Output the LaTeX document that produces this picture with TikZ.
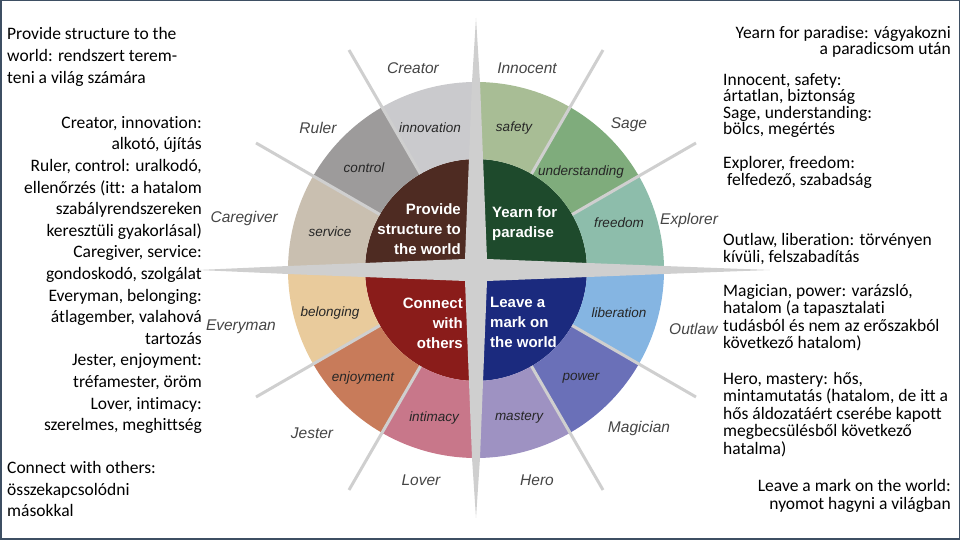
\documentclass[tikz,border=0pt]{standalone}
\usepackage{fontspec}
\setmainfont{Carlito}[Ligatures=NoCommon]
\newfontfamily\chartfont{Liberation Sans}
\usepackage{tikz}
\definecolor{coreprov}{HTML}{4E2B22}
\definecolor{coreyearn}{HTML}{1E4A2C}
\definecolor{coreconn}{HTML}{8A1C1A}
\definecolor{coreleave}{HTML}{1B2A7E}
\definecolor{ringinnov}{HTML}{CACACD}
\definecolor{ringcontrol}{HTML}{9D9B9B}
\definecolor{ringservice}{HTML}{C9BFB0}
\definecolor{ringsafety}{HTML}{A8BD95}
\definecolor{ringunder}{HTML}{7FAC7C}
\definecolor{ringfreedom}{HTML}{8DBDAB}
\definecolor{ringbelong}{HTML}{E9CB9C}
\definecolor{ringenjoy}{HTML}{C87B5A}
\definecolor{ringintim}{HTML}{C8778A}
\definecolor{ringliber}{HTML}{85B5E2}
\definecolor{ringpower}{HTML}{6A70B8}
\definecolor{ringmastery}{HTML}{9E92C2}
\definecolor{crossgray}{HTML}{CFCFCF}
\definecolor{labgray}{HTML}{454545}
\definecolor{framecol}{HTML}{3E4F63}

\begin{document}
\begin{tikzpicture}[x=1pt,y=1pt,inner sep=0pt]
                \tikzstyle{outer}=[font=\chartfont\itshape\fontsize{15.5}{18}\selectfont,text=labgray]
                \tikzstyle{inner}=[font=\chartfont\itshape\fontsize{13.5}{16}\selectfont,text=black!85]
                \tikzstyle{core}=[font=\chartfont\bfseries\fontsize{15}{20}\selectfont,text=white]
                \tikzstyle{divider}=[draw=crossgray,line width=3pt]
                \tikzstyle{side}=[font={\fontsize{17.5}{21.6}\selectfont\lineskiplimit=-30pt},text=black]
                \tikzstyle{rside}=[font={\fontsize{17.5}{16.4}\selectfont\lineskiplimit=-30pt},text=black]
                \tikzstyle{rsidewide}=[font={\fontsize{17.5}{17.4}\selectfont\lineskiplimit=-30pt},text=black]
                \useasboundingbox (0,0) rectangle (960,540);
                \coordinate (c) at (476,270);

                \begin{scope}[shift={(c)}]
                \foreach \a/\col in {0/coreyearn,90/coreprov,180/coreconn,270/coreleave}
                    \fill[\col] (0,0) -- (\a:111) arc[start angle=\a,delta angle=90,radius=111] -- cycle;
                \foreach \a/\b/\col in {60/90/ringsafety,30/60/ringunder,0/30/ringfreedom,
                    -30/0/ringliber,-60/-30/ringpower,-90/-60/ringmastery,
                    240/270/ringintim,210/240/ringenjoy,180/210/ringbelong,
                    150/180/ringservice,120/150/ringcontrol,90/120/ringinnov}
                    \fill[\col] (\a:111) arc[start angle=\a,end angle=\b,radius=111]
                        -- (\b:188) arc[start angle=\b,end angle=\a,radius=188] -- cycle;
                \foreach \a in {30,60,120,150,210,240,300,330}
                    \draw[divider] (\a:111) -- (\a:254);
                \fill[crossgray] (11,11) -- (4,188) -- (0,252) -- (-4,188) -- (-11,11)
                    -- (-188,4) -- (-278,0) -- (-188,-4) -- (-11,-11)
                    -- (-4,-188) -- (0,-248) -- (4,-188) -- (11,-11)
                    -- (188,-4) -- (294,0) -- (188,4) -- cycle;
                \end{scope}

                \node[outer]    (creator)   at (413,472)            {Creator};
                \node[outer]    (innocent)  at (527,472)            {Innocent};
                \node[outer]    (sage)      at (629,415)            {Sage};
                \node[outer]    (explorer)  [anchor=west] at (660,320)  {Explorer};
                \node[outer]    (outlaw)    [anchor=west] at (669,211)  {Outlaw};
                \node[outer]    (magician)  at (639,112)            {Magician};
                \node[outer]    (hero)      at (537,60)             {Hero};
                \node[outer]    (lover)     at (421,60)             {Lover};
                \node[outer]    (jester)    at (312,107)            {Jester};
                \node[outer]    (everyman)  [anchor=east] at (276,213)  {Everyman};
                \node[outer]    (caregiver) [anchor=east] at (278,322)  {Caregiver};
                \node[outer]    (ruler)     at (318,412)            {Ruler};

                \node[inner]    (innovation)    at (430,412)    {innovation};
                \node[inner]    (safety)        at (514,412)    {safety};
                \node[inner]    (understanding) at (581,368)    {understanding};
                \node[inner]    (freedom)       at (619,317)    {freedom};
                \node[inner]    (liberation)    at (619,227)    {liberation};
                \node[inner]    (power)         at (581,162)    {power};
                \node[inner]    (mastery)       at (519,122)    {mastery};
                \node[inner]    (intimacy)      at (434,122)    {intimacy};
                \node[inner]    (enjoyment)     at (363,162)    {enjoyment};
                \node[inner]    (belonging)     at (330,227)    {belonging};
                \node[inner]    (service)       at (330,308)    {service};
                \node[inner]    (control)       at (364,372)    {control};

                \node[core,anchor=east,align=right] (provide) at (461,311) {Provide\\structure to\\the world};
                \node[core,anchor=west,align=left]  (yearn)   at (492,316) {Yearn for\\paradise};
                \node[core,anchor=east,align=right] (connect) at (463,217) {Connect\\with\\others};
                \node[core,anchor=west,align=left]  (leave)   at (490,218) {Leave a\\mark on\\the world};

                \node[side,anchor=west,align=left]   (provtxt)  at (7,483)  {Provide structure to the\\world: rendszert terem-\\teni a világ számára};
                \node[side,anchor=east,align=right]  (lefttxt)  at (202,265) {Creator, innovation:\\alkotó, újítás\\Ruler, control: uralkodó,\\ellenőrzés (itt: a hatalom\\szabályrendszereken\\keresztüli gyakorlásal)\\Caregiver, service:\\gondoskodó, szolgálat\\Everyman, belonging:\\átlagember, valahová\\tartozás\\Jester, enjoyment:\\tréfamester, öröm\\Lover, intimacy:\\szerelmes, meghittség};
                \node[side,anchor=west,align=left]   (conntxt)  at (7,51)   {Connect with others:\\összekapcsolódni\\másokkal};

                \node[rside,anchor=east,align=right]    (yearntxt) at (951,498)   {Yearn for paradise: vágyakozni\\a paradicsom után};
                \node[rside,anchor=west,align=left]     (innotxt)  at (723,434.5) {Innocent, safety:\\ártatlan, biztonság\\Sage, understanding:\\bölcs, megértés};
                \node[rside,anchor=west,align=left]     (explotxt) at (723,367.5) {Explorer, freedom:\\\ felfedező, szabadság};
                \node[rside,anchor=west,align=left]     (outltxt)  at (723,291)   {Outlaw, liberation: törvényen\\kívüli, felszabadítás};
                \node[rsidewide,anchor=west,align=left] (magitxt)  at (723,222.5) {Magician, power: varázsló,\\hatalom (a tapasztalati\\tudásból és nem az erőszakból\\következő hatalom)};
                \node[rsidewide,anchor=west,align=left] (herotxt)  at (723,125.5) {Hero, mastery: hős,\\mintamutatás (hatalom, de itt a\\hős áldozatáért cserébe kapott\\megbecsülésből következő\\hatalma)};
                \node[rsidewide,anchor=east,align=right] (leavetxt) at (951,44)   {Leave a mark on the world:\\nyomot hagyni a világban};

                \draw[framecol,line width=1.5pt] (0.75,0.75) rectangle (959.25,539.25);
            \end{tikzpicture}
\end{document}
